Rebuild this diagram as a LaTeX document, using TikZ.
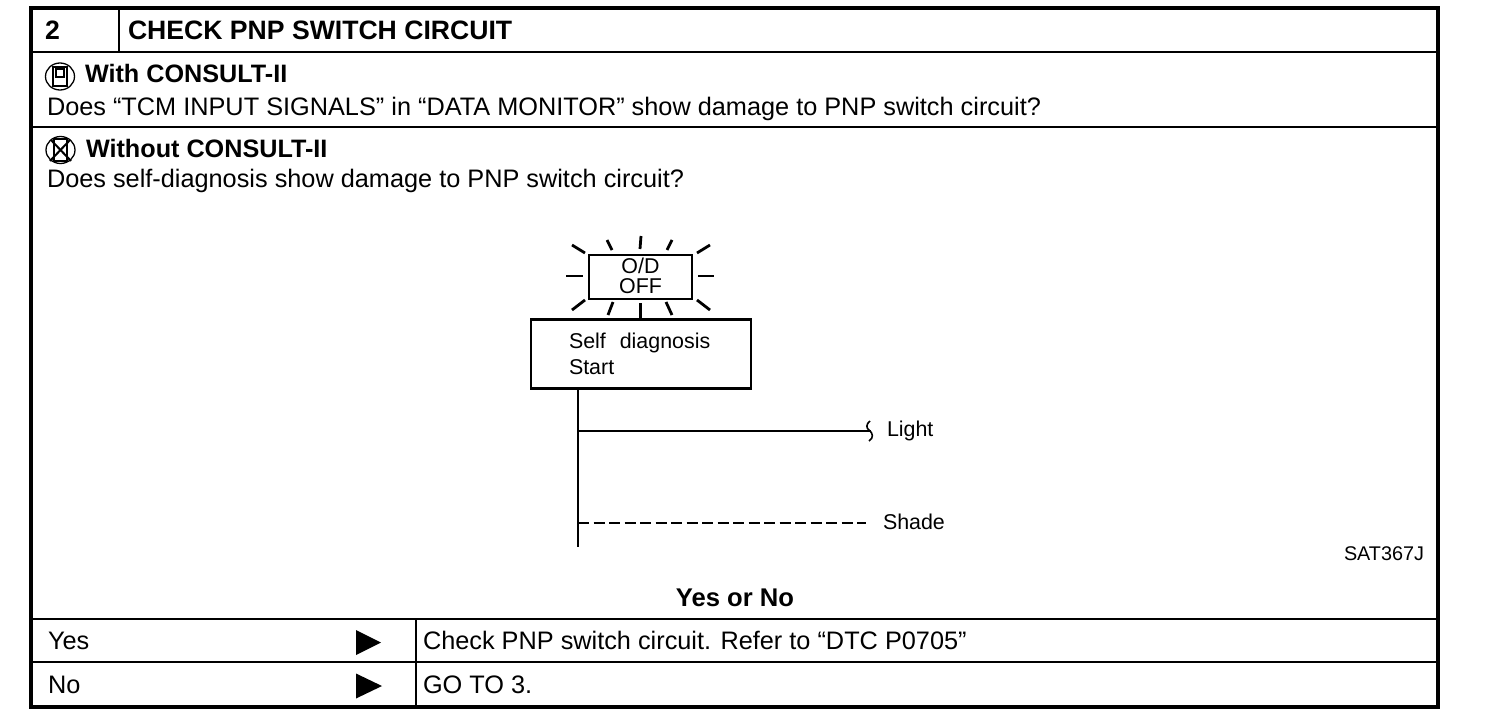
\documentclass[tikz,border=0pt]{standalone}
\usepackage{fontspec}
\setmainfont{Liberation Sans}
\begin{document}
\begin{tikzpicture}[x=1pt,y=-1pt,
  txt/.style={anchor=base west,inner sep=0pt,outer sep=0pt,font=\fontsize{25.3}{25.3}\selectfont},
  bold/.style={txt,font=\fontsize{25.2}{25.2}\selectfont\bfseries},
  head/.style={txt,font=\fontsize{26.6}{26.6}\selectfont\bfseries},
  small/.style={txt,font=\fontsize{21.4}{21.4}\selectfont},
  tiny/.style={txt,font=\fontsize{19.8}{19.8}\selectfont},
  rule/.style={line width=2.2pt,black},
  frame/.style={line width=3.5pt,black},
  ray/.style={line width=2.8pt,black},
  icon/.style={line width=1.3pt,black},
  tip/.style={fill=black,draw=none}]
\useasboundingbox (0,0) rectangle (1504,720);
\fill[white] (0,0) rectangle (1504,720);
% horizontal rules
\draw[rule] (31,52) -- (1438,52);
\draw[rule] (31,127) -- (1438,127);
\draw[rule] (31,619) -- (1438,619);
\draw[rule] (31,662) -- (1438,662);
% vertical rules
\draw[rule] (119,8) -- (119,52);
\draw[rule] (416,619) -- (416,707);
% outer frame
\draw[frame] (31,8) rectangle (1438,707);
% header
\node[head] (num) at (45,39.5) {2};
\node[head] (title) at (128,39.5) {CHECK PNP SWITCH CIRCUIT};
% consult icon with
\draw[icon] (60,76.5) ellipse (14.5 and 13.5);
\draw[icon] (53,67) rectangle (67,86);
\draw[icon] (56,69) rectangle (64,77);
\node[bold] (with) at (85,82) {With CONSULT-II};
\node[txt] (q1) at (47,115) {Does “TCM INPUT SIGNALS” in “DATA MONITOR” show damage to PNP switch circuit?};
% consult icon without
\draw[icon] (60.5,150) ellipse (14.5 and 13.5);
\draw[icon] (54,139) rectangle (67,161);
\draw[line width=2pt] (51,140) -- (71,161) (70,140) -- (50,161);
\node[bold] (without) at (86,157) {Without CONSULT-II};
\node[txt] (q2) at (47,187.5) {Does self-diagnosis show damage to PNP switch circuit?};
% lamp
\node[draw,line width=2.2pt,minimum width=103pt,minimum height=44pt,inner sep=0pt,outer sep=0pt] (lamp) at (640.5,277) {};
\node[small,anchor=base] (od) at (640.5,273) {O/D};
\node[small,anchor=base] (off) at (640.5,293) {OFF};
% self diagnosis box
\node[draw,line width=2.2pt,minimum width=220pt,minimum height=69pt,inner sep=0pt,outer sep=0pt] (sd) at (641,354) {};
\foreach \a/\b/\c/\d in {
  572/245/585/253, 607/240/612/250, 641/236/640/249, 672/240/667/250, 710/245/697/253,
  566/276/583/276, 698/276/714/276,
  572/310/585/300, 608/315/613/302, 672/315/666/302, 710/310/697/300}
  \draw[ray] (\a,\b) -- (\c,\d);
\coordinate (raytop) at (640.5,303);
\draw[ray] (raytop) -- (raytop |- sd.north);
\node[small] (sd1) at (569,348) {Self\hspace{8pt} diagnosis};
\node[small] (sd2) at (569,374.5) {Start};
% time chart
\coordinate (base) at (578,547);
\draw[rule] (base |- sd.south) -- (base);
\coordinate (la) at (578,431);
\coordinate (lb) at (871,431);
\draw[rule] (la) -- (lb);
\draw[line width=1.6pt] (870,421) .. controls (866,424) and (866,428) .. (869,430) .. controls (873,433) and (874,438) .. (869,441);
\node[small] (light) at (887,436) {Light};
\coordinate (sa) at (578,523);
\coordinate (sb) at (866,523);
\draw[line width=2.2pt,dash pattern=on 11pt off 4.5pt] (sa) -- (sb);
\node[small] (shade) at (883,529.5) {Shade};
\node[tiny] (code) at (1344,560.5) {SAT367J};
\node[bold,anchor=base,font=\fontsize{25.6}{25.6}\selectfont\bfseries] (yn) at (735,606) {Yes or No};
% answers
\node[txt] (yes) at (48,649) {Yes};
\fill[tip] (356,630) -- (381,642.5) -- (356,655) -- cycle;
\node[txt] (yans) at (423,649) {Check PNP switch circuit. Refer to “DTC P0705”};
\node[txt] (no) at (48,693) {No};
\fill[tip] (356,673.5) -- (382,686) -- (356,698.5) -- cycle;
\node[txt] (nans) at (423,693) {GO TO 3.};
\end{tikzpicture}
\end{document}
